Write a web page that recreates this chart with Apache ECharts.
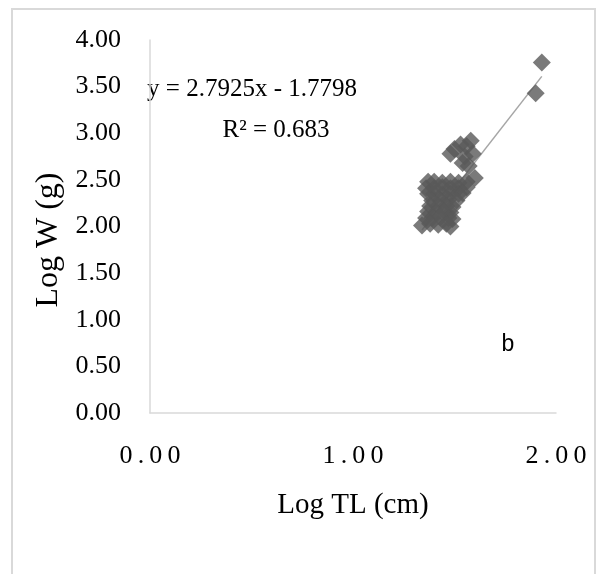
<!DOCTYPE html>
<html><head><meta charset="utf-8">
<script src="https://cdn.jsdelivr.net/npm/echarts@6/dist/echarts.min.js"></script>
<style>html,body{margin:0;padding:0;background:#fff}#c{width:601px;height:574px}</style>
</head><body><div id="c"></div>
<script>
// Log TL (cm) values
const logTL = [
  1.37, 1.40, 1.44, 1.48, 1.52, 1.56, 1.60,
  1.36, 1.40, 1.44, 1.48, 1.52, 1.56,
  1.37, 1.40, 1.44, 1.48, 1.52, 1.54,
  1.39, 1.43, 1.47, 1.51,
  1.38, 1.42, 1.46, 1.49,
  1.37, 1.41, 1.45, 1.48,
  1.36, 1.39, 1.43, 1.47, 1.49,
  1.34, 1.38, 1.42, 1.46, 1.48,
  1.48, 1.50, 1.53, 1.56, 1.58, 1.59, 1.55, 1.54, 1.57,
  1.90, 1.93
];
// Log W (g) values
const logW = [
  2.48, 2.48, 2.47, 2.48, 2.47, 2.48, 2.52,
  2.41, 2.41, 2.42, 2.41, 2.41, 2.42,
  2.35, 2.35, 2.34, 2.35, 2.35, 2.36,
  2.28, 2.28, 2.29, 2.28,
  2.22, 2.22, 2.22, 2.21,
  2.16, 2.15, 2.16, 2.15,
  2.09, 2.09, 2.10, 2.09, 2.08,
  2.01, 2.03, 2.02, 2.03, 2.00,
  2.78, 2.83, 2.88, 2.86, 2.92, 2.78, 2.75, 2.68, 2.65,
  3.43, 3.76
];
const slope = 2.7925;
const intercept = -1.7798;
const rSquared = 0.683;
const panelLabel = 'b';

const points = logTL.map((x, i) => [x, logW[i]]);
const xMin = Math.min(...logTL), xMax = Math.max(...logTL);
const trend = [[xMin, slope * xMin + intercept], [xMax, slope * xMax + intercept]];

const serif = 'Liberation Serif';
const chart = echarts.init(document.getElementById('c'), null, {renderer: 'canvas'});
chart.setOption({
  animation: false,
  backgroundColor: '#fff',
  grid: {left: 150, right: 45, top: 40, bottom: 161},
  xAxis: {
    type: 'value', min: 0, max: 2, interval: 1,
    axisLine: {show: true, lineStyle: {color: '#d9d9d9', width: 1.5}},
    axisTick: {show: false}, splitLine: {show: false},
    axisLabel: {
      color: '#000', fontFamily: serif, fontSize: 26, margin: 30,
      formatter: v => v.toFixed(2).split('').join('\u2009')
    },
    name: 'Log TL (cm)', nameLocation: 'middle', nameGap: 78,
    nameTextStyle: {color: '#000', fontFamily: serif, fontSize: 29}
  },
  yAxis: {
    type: 'value', min: 0, max: 4, interval: 0.5,
    axisLine: {show: true, lineStyle: {color: '#d9d9d9', width: 1.5}},
    axisTick: {show: false}, splitLine: {show: false},
    axisLabel: {
      color: '#000', fontFamily: serif, fontSize: 26, margin: 29,
      formatter: v => v.toFixed(2)
    }
  },
  graphic: [
    {type: 'rect', shape: {x: 12, y: 9, width: 583, height: 620}, style: {fill: 'none', stroke: '#d9d9d9', lineWidth: 2}, z: -10, silent: true},
    {type: 'text', x: 49, y: 240, rotation: Math.PI / 2,
      style: {text: 'Log W (g)', fontFamily: serif, fontSize: 32, fill: '#000', align: 'center', verticalAlign: 'middle'}},
    {type: 'text', x: 252, y: 89,
      style: {text: 'y = ' + slope + 'x - ' + Math.abs(intercept), fontFamily: serif, fontSize: 25, fill: '#000', align: 'center', verticalAlign: 'middle'}},
    {type: 'text', x: 276, y: 130,
      style: {text: 'R\u00b2 = ' + rSquared, fontFamily: serif, fontSize: 25, fill: '#000', align: 'center', verticalAlign: 'middle'}},
    {type: 'text', x: 508, y: 345,
      style: {text: panelLabel, fontFamily: 'Liberation Sans', fontSize: 23, fill: '#000', align: 'center', verticalAlign: 'middle'}}
  ],
  series: [
    {type: 'line', data: trend, symbol: 'none', lineStyle: {color: '#a6a6a6', width: 1.5}, z: 1},
    {type: 'scatter', data: points, symbol: 'diamond', symbolSize: 18, itemStyle: {color: '#595959'}, z: 2}
  ]
});
</script></body></html>
